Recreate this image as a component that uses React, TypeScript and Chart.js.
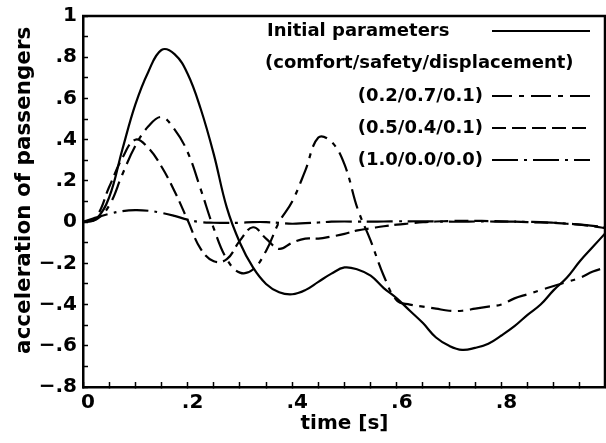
import React, { useEffect, useRef } from "react";
import { Chart, registerables } from "chart.js";

Chart.register(...registerables);

// ---- data ----
const time = [
  0, 0.025, 0.05, 0.075, 0.1, 0.125, 0.15, 0.175, 0.2, 0.225, 0.25, 0.275, 0.3, 0.325, 0.35, 0.375,
  0.4, 0.425, 0.45, 0.475, 0.5, 0.525, 0.55, 0.575, 0.6, 0.625, 0.65, 0.675, 0.7, 0.725, 0.75, 0.775,
  0.8, 0.825, 0.85, 0.875, 0.9, 0.925, 0.95, 0.975, 1.0,
];

const initialParameters = [
  0, 0.015, 0.12, 0.35, 0.57, 0.73, 0.835, 0.815, 0.72, 0.55, 0.33, 0.07, -0.1, -0.22, -0.3, -0.34,
  -0.35, -0.33, -0.29, -0.25, -0.22, -0.23, -0.26, -0.32, -0.37, -0.43, -0.49, -0.56, -0.6, -0.62, -0.61, -0.59,
  -0.55, -0.505, -0.45, -0.4, -0.33, -0.27, -0.19, -0.12, -0.05,
];

const weights_02_07_01 = [
  0, 0.012, 0.08, 0.23, 0.37, 0.465, 0.51, 0.45, 0.34, 0.16, -0.03, -0.18, -0.245, -0.23, -0.14, 0.0,
  0.1, 0.25, 0.41, 0.39, 0.28, 0.065, -0.09, -0.26, -0.38, -0.4, -0.41, -0.42, -0.43, -0.43, -0.42, -0.41,
  -0.4, -0.37, -0.35, -0.33, -0.31, -0.29, -0.27, -0.24, -0.22,
];

const weights_05_04_01 = [
  0, 0.025, 0.17, 0.31, 0.4, 0.36, 0.27, 0.15, 0.01, -0.13, -0.19, -0.18, -0.09, -0.025, -0.08, -0.13,
  -0.1, -0.08, -0.08, -0.07, -0.057, -0.04, -0.03, -0.02, -0.012, -0.006, 0, 0.003, 0.005, 0.006, 0.006, 0.005,
  0.004, 0.002, 0, -0.002, -0.004, -0.008, -0.012, -0.02, -0.03,
];

const weights_10_00_00 = [
  0, 0.022, 0.04, 0.053, 0.058, 0.055, 0.045, 0.03, 0.012, 0.0, -0.003, -0.004, -0.003, 0, 0, -0.004,
  -0.008, -0.005, -0.002, 0.002, 0.003, 0.002, 0.002, 0.003, 0.004, 0.004, 0.004, 0.003, 0.002, 0.002, 0.003, 0.003,
  0.002, 0.002, 0.001, 0, -0.003, -0.007, -0.012, -0.018, -0.025,
];

const seriesLabels = ["Initial parameters", "(0.2/0.7/0.1)", "(0.5/0.4/0.1)", "(1.0/0.0/0.0)"];
const legendSubtitle = "(comfort/safety/displacement)";

const xTickValues = [0, 0.2, 0.4, 0.6, 0.8, 1];
const xTickLabels = ["0", ".2", ".4", ".6", ".8", "1"];
const yTickValues = [-0.8, -0.6, -0.4, -0.2, 0, 0.2, 0.4, 0.6, 0.8, 1];
const yTickLabels = ["\u2212.8", "\u2212.6", "\u2212.4", "\u2212.2", "0", ".2", ".4", ".6", ".8", "1"];

const xTitle = "time [s]";
const yTitle = "acceleration of passengers";

// ---- styles ----
const FONT = "'DejaVu Sans', 'Liberation Sans', sans-serif";
const dashes = [[], [20, 7, 5, 7], [14, 6], [26, 6, 3, 6]];

function labelFor(values: number[], labels: string[], v: number) {
  for (let i = 0; i < values.length; i++) {
    if (Math.abs(values[i] - v) < 1e-6) return labels[i];
  }
  return "";
}

const frameAndLegend = {
  id: "frameAndLegend",
  afterDatasetsDraw(chart: any) {
    const { ctx, chartArea } = chart;
    const { left, top, right, bottom } = chartArea;
    ctx.save();
    // top and right frame
    ctx.strokeStyle = "#000";
    ctx.lineWidth = 2.5;
    ctx.setLineDash([]);
    ctx.beginPath();
    ctx.moveTo(left - 1, top);
    ctx.lineTo(right - 1, top);
    ctx.lineTo(right - 1, bottom);
    ctx.stroke();

    // legend
    ctx.font = `bold 18px ${FONT}`;
    ctx.fillStyle = "#000";
    ctx.textBaseline = "middle";
    const rowY = [top + 15, top + 47, top + 80, top + 112, top + 144];
    const sampleX0 = left + 409;
    const sampleX1 = left + 507;
    const textRight = left + 400;
    const textLeft = left + 184;

    const drawSample = (y: number, dash: number[]) => {
      ctx.save();
      ctx.lineWidth = 2.2;
      ctx.setLineDash(dash);
      ctx.beginPath();
      ctx.moveTo(sampleX0, y);
      ctx.lineTo(sampleX1, y);
      ctx.stroke();
      ctx.restore();
    };

    chart.data.datasets.forEach((ds: any, i: number) => {
      if (i === 0) {
        ctx.textAlign = "left";
        ctx.fillText(ds.label, textLeft, rowY[0]);
        drawSample(rowY[0], ds.borderDash || []);
      } else {
        ctx.textAlign = "right";
        ctx.fillText(ds.label, textRight, rowY[i + 1]);
        drawSample(rowY[i + 1], ds.borderDash || []);
      }
    });
    ctx.textAlign = "left";
    ctx.fillText(legendSubtitle, textLeft - 2, rowY[1]);
    ctx.restore();
  },
};

export default function App() {
  const ref = useRef<HTMLCanvasElement | null>(null);

  useEffect(() => {
    if (!ref.current) return;
    const allSeries = [initialParameters, weights_02_07_01, weights_05_04_01, weights_10_00_00];
    const chart = new Chart(ref.current, {
      type: "line",
      data: {
        datasets: allSeries.map((s, i) => ({
          label: seriesLabels[i],
          data: time.map((t, k) => ({ x: t, y: s[k] })),
          borderColor: "#000",
          backgroundColor: "#000",
          borderWidth: 2.2,
          borderDash: dashes[i],
          pointRadius: 0,
          tension: 0.4,
          fill: false,
        })),
      },
      options: {
        animation: false,
        responsive: false,
        events: [],
        layout: { padding: { top: 16, right: 0, bottom: 0, left: 0 } },
        plugins: { legend: { display: false }, tooltip: { enabled: false } },
        scales: {
          x: {
            type: "linear",
            min: 0,
            max: 1,
            ticks: {
              stepSize: 0.05,
              autoSkip: false,
              maxRotation: 0,
              minRotation: 0,
              padding: 9,
              labelOffset: 5,
              color: "#000",
              font: { family: FONT, size: 20, weight: "bold" },
              callback: (v: any) => labelFor(xTickValues, xTickLabels, Number(v)),
            },
            grid: { drawOnChartArea: false, drawTicks: true, tickLength: -5, tickColor: "#000", tickWidth: 1.5 },
            border: { display: true, color: "#000", width: 2.5 },
            title: {
              display: true,
              text: xTitle,
              color: "#000",
              font: { family: FONT, size: 20, weight: "bold" },
              padding: { top: 0, bottom: 7 },
            },
            afterFit: (s: any) => {
              s.height = 56;
              s.paddingLeft = 0;
              s.paddingRight = 0;
            },
          },
          y: {
            type: "linear",
            min: -0.8,
            max: 1,
            ticks: {
              stepSize: 0.1,
              autoSkip: false,
              padding: 11,
              color: "#000",
              font: { family: FONT, size: 20, weight: "bold" },
              callback: (v: any) => labelFor(yTickValues, yTickLabels, Number(v)),
            },
            grid: { drawOnChartArea: false, drawTicks: true, tickLength: -5, tickColor: "#000", tickWidth: 1.5 },
            border: { display: true, color: "#000", width: 2.5 },
            title: {
              display: true,
              text: "   " + yTitle,
              color: "#000",
              font: { family: FONT, size: 21.5, weight: "bold" },
              padding: { top: 12, bottom: 0 },
            },
            afterFit: (s: any) => {
              s.width = 83;
              s.paddingTop = 0;
              s.paddingBottom = 0;
            },
          },
        },
      },
      plugins: [frameAndLegend],
    });
    return () => chart.destroy();
  }, []);

  return (
    <div style={{ position: "fixed", left: 0, top: 0, width: 606, height: 443, background: "#fff", overflow: "hidden" }}>
      <canvas ref={ref} width={606} height={443} style={{ display: "block", width: 606, height: 443 }} />
    </div>
  );
}
